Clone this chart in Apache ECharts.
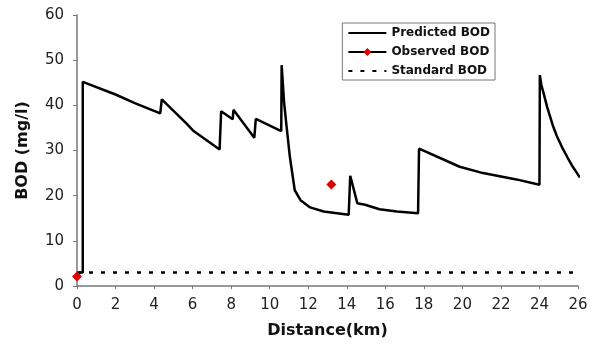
<!DOCTYPE html>
<html>
<head>
<meta charset="utf-8">
<script src="https://cdn.jsdelivr.net/npm/echarts@6/dist/echarts.min.js"></script>
<style>
html, body { margin: 0; padding: 0; background: #fff; }
#chart { width: 603px; height: 345px; }
</style>
</head>
<body>
<div id="chart"></div>
<script>
// distance (km) and BOD (mg/l)
var predictedDist = [0.1, 0.3, 0.3, 2.0, 3.0, 4.32, 4.4, 5.7, 6.05, 7.4, 7.48, 8.08, 8.12, 9.2, 9.28, 10.6, 10.62, 10.75, 10.88, 11.05, 11.3, 11.6, 12.1, 12.8, 14.1, 14.18, 14.55, 14.95, 15.7, 16.6, 17.7, 17.75, 19.86, 21.07, 22.8, 24.0, 24.02, 24.1, 24.22, 24.4, 24.69, 24.9, 25.21, 25.45, 25.73, 25.95, 26.1]
var predictedBOD = [3, 3, 45.2, 42.4, 40.5, 38.2, 41.3, 35.9, 34.3, 30.2, 38.7, 36.9, 39.0, 32.8, 37.0, 34.3, 48.9, 40.5, 35.2, 28.5, 21.2, 19.0, 17.4, 16.5, 15.8, 24.4, 18.3, 18.0, 17.0, 16.5, 16.1, 30.4, 26.4, 25.0, 23.6, 22.4, 46.7, 44.5, 42.6, 39.6, 35.6, 33.2, 30.4, 28.5, 26.4, 25.0, 24.0]
var observedDist = [0, 13.2]
var observedBOD = [2.1, 22.5]
var standardDist = [0, 26]
var standardBOD = [3, 3]

function pairs(xs, ys) {
	var out = []
	for (let i = 0; i < xs.length; i++) out.push([xs[i], ys[i]])
	return out
}

var mychart = echarts.init(document.getElementById('chart'));
var axisText = { color: '#222', fontSize: 15, fontFamily: 'DejaVu Sans' };
var nameText = { fontWeight: 'bold', fontSize: 16, color: '#111', fontFamily: 'DejaVu Sans' };
var option = {
	animation: false,
	grid: { left: 77, right: 25, top: 15, bottom: 59 },
	legend: {
		orient: 'vertical',
		right: 108,
		top: 23,
		itemWidth: 38,
		itemHeight: 10,
		itemGap: 7,
		padding: [4, 5, 3, 5],
		borderColor: '#777',
		borderWidth: 1,
		textStyle: { fontWeight: 'bold', fontSize: 12, color: '#111', fontFamily: 'DejaVu Sans' },
		data: [
			{ name: 'Predicted BOD', itemStyle: { opacity: 0 } },
			{ name: 'Observed BOD', lineStyle: { width: 2, color: '#000', opacity: 1 } },
			{ name: 'Standard BOD', itemStyle: { opacity: 0 } }
		]
	},
	xAxis: {
		type: 'value',
		min: 0, max: 26, interval: 2,
		name: 'Distance(km)',
		nameLocation: 'middle',
		nameGap: 37,
		nameTextStyle: nameText,
		axisLine: { lineStyle: { color: '#777', width: 1.5 } },
		axisTick: { length: 3, lineStyle: { color: '#777' } },
		axisLabel: Object.assign({ margin: 12 }, axisText),
		splitLine: { show: false }
	},
	yAxis: {
		type: 'value',
		min: 0, max: 60, interval: 10,
		name: 'BOD (mg/l)',
		nameLocation: 'middle',
		nameGap: 46,
		nameTextStyle: nameText,
		axisLine: { show: true, lineStyle: { color: '#777', width: 1.5 } },
		axisTick: { show: true, length: 4, lineStyle: { color: '#777' } },
		axisLabel: Object.assign({ margin: 13 }, axisText),
		splitLine: { show: false }
	},
	series: [{
		name: 'Predicted BOD',
		type: 'line',
		data: pairs(predictedDist, predictedBOD),
		symbol: 'none',
		lineStyle: { color: '#000', width: 2.5 },
		itemStyle: { color: '#000' },
		z: 3
	}, {
		name: 'Observed BOD',
		type: 'line',
		data: pairs(observedDist, observedBOD),
		symbol: 'diamond',
		symbolSize: 10,
		lineStyle: { width: 0, opacity: 0 },
		itemStyle: { color: '#e00000' },
		z: 4
	}, {
		name: 'Standard BOD',
		type: 'line',
		data: pairs(standardDist, standardBOD),
		symbol: 'none',
		lineStyle: { color: '#000', width: 2.5, type: [4, 8] },
		itemStyle: { color: '#000' },
		z: 2
	}]
};
mychart.setOption(option);
</script>
</body>
</html>
